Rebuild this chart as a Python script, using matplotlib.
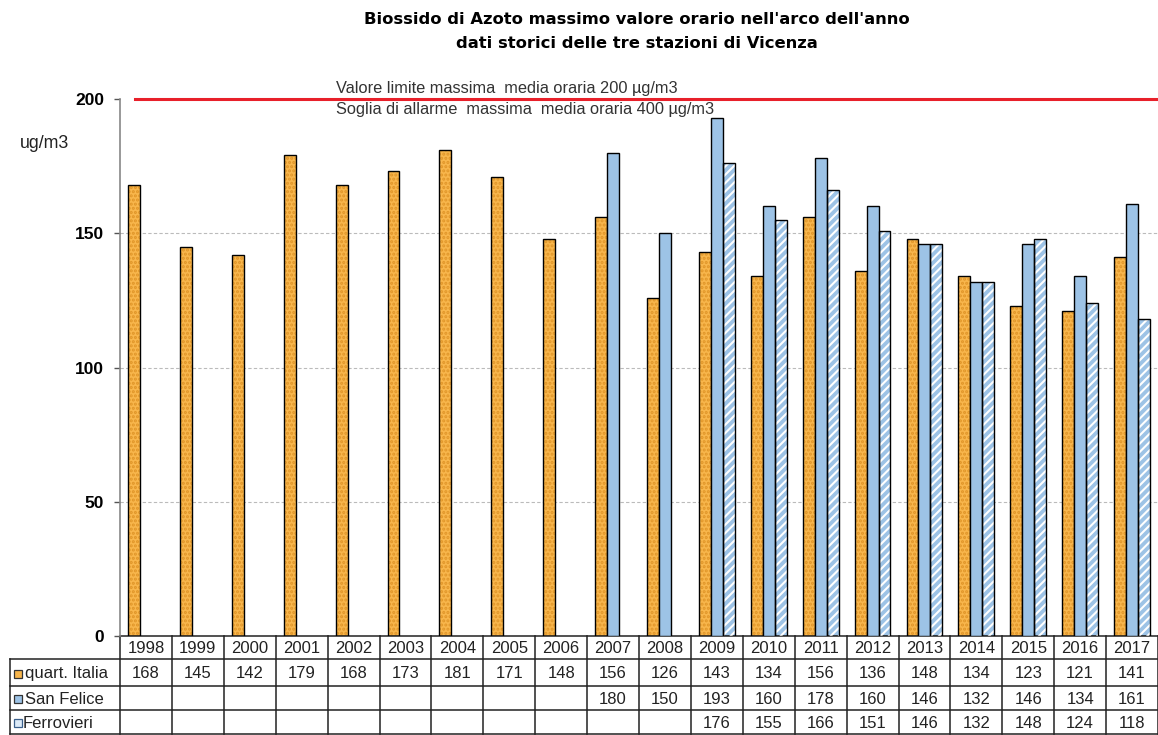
import matplotlib
matplotlib.use("Agg")
import matplotlib.pyplot as plt
from matplotlib.transforms import blended_transform_factory
from matplotlib.patches import Rectangle
import numpy as np

plt.rcParams['font.family'] = ['Liberation Sans', 'DejaVu Sans']
plt.rcParams['hatch.linewidth'] = 1.5

years = [str(y) for y in range(1998, 2018)]
quart_italia = [168, 145, 142, 179, 168, 173, 181, 171, 148, 156, 126, 143, 134, 156, 136, 148, 134, 123, 121, 141]
san_felice = [None] * 9 + [180, 150, 193, 160, 178, 160, 146, 132, 146, 134, 161]
ferrovieri = [None] * 11 + [176, 155, 166, 151, 146, 132, 148, 124, 118]
series_names = ["quart. Italia", "San Felice", "Ferrovieri"]
yticks = [0, 50, 100, 150, 200]
limit_value = 200
limit_text1 = "Valore limite massima  media oraria 200 µg/m3"
limit_text2 = "Soglia di allarme  massima  media oraria 400 µg/m3"
title1 = "Biossido di Azoto massimo valore orario nell'arco dell'anno"
title2 = "dati storici delle tre stazioni di Vicenza"

ORANGE = "#F8B64C"
ORANGE_DOT = "#E09528"
BLUE = "#9DC3E6"

W, H = 1158, 735
fig = plt.figure(figsize=(W / 100, H / 100), dpi=100)
ax_left, ax_right, ax_top, ax_bottom = 120, 1158, 99, 636
ax = fig.add_axes([ax_left / W, (H - ax_bottom) / H, (ax_right - ax_left) / W, (ax_bottom - ax_top) / H])

n = len(years)
x = np.arange(n)
bw = 0.23

def vals(a):
    return np.array([np.nan if v is None else v for v in a], dtype=float)

q = vals(quart_italia)
s = vals(san_felice)
f = vals(ferrovieri)

# grid
for yv in yticks[1:-1]:
    ax.axhline(yv, color="#bbbbbb", lw=0.8, ls=(0, (3, 2)), zorder=0)

# orange bars with dotted texture
ax.bar(x - bw, q, bw, color=ORANGE, edgecolor="none", zorder=2)
ax.bar(x - bw, q, bw, color="none", edgecolor=ORANGE_DOT, hatch="....", lw=0, zorder=3)
ax.bar(x - bw, q, bw, color="none", edgecolor="black", lw=1.0, zorder=4)
# blue bars
ax.bar(x, s, bw, color=BLUE, edgecolor="black", lw=1.0, zorder=4)
# hatched blue bars
ax.bar(x + bw, f, bw, color=BLUE, edgecolor="none", zorder=2)
ax.bar(x + bw, f, bw, color="none", edgecolor="white", hatch="////", lw=0, zorder=3)
ax.bar(x + bw, f, bw, color="none", edgecolor="black", lw=1.0, zorder=4)

# limit line
ax.plot([-0.21, n - 0.5], [limit_value, limit_value], color="#E8202A", lw=2.2, clip_on=False, zorder=5)
ax.text(3.66, limit_value + 1.2, limit_text1, fontsize=11.8, color="#333333", ha="left", va="bottom")
ax.text(3.66, limit_value - 1.0, limit_text2, fontsize=11.8, color="#333333", ha="left", va="top")

ax.set_xlim(-0.5, n - 0.5)
ax.set_ylim(0, 200)
ax.set_yticks(yticks)
ax.set_yticklabels([str(t) for t in yticks], fontsize=12.5, fontweight="bold")
ax.tick_params(axis="y", length=4.5, width=1, color="#555555", pad=7)
ax.set_xticks([])
for sp in ["top", "right", "bottom"]:
    ax.spines[sp].set_visible(False)
ax.spines["left"].set_color("#888888")
ax.spines["left"].set_linewidth(1.2)

fig.text(20 / W, 1 - 143 / H, "ug/m3", fontsize=12.8, ha="left", va="center", color="#222222")
fig.text(637 / W, 1 - 20 / H, title1, fontsize=11.8, fontweight="bold", ha="center", va="center",
         family=["DejaVu Sans"])
fig.text(637 / W, 1 - 43 / H, title2, fontsize=11.8, fontweight="bold", ha="center", va="center",
         family=["DejaVu Sans"])

# table
tr = blended_transform_factory(ax.transData, ax.transAxes)
def ay(px):
    return (ax_bottom - px) / (ax_bottom - ax_top)

row_edges = [636, 659, 686, 710, 734]
label_left = -0.5 + (10 - ax_left) / ((ax_right - ax_left) / n)
lc = "#222222"
lw = 1.1
ax.plot([-0.5, n - 0.5], [ay(row_edges[0])] * 2, color=lc, lw=lw, transform=tr, clip_on=False)
for r in row_edges[1:]:
    ax.plot([label_left, n - 0.5], [ay(r)] * 2, color=lc, lw=lw, transform=tr, clip_on=False)
for i in range(n + 1):
    ax.plot([i - 0.5, i - 0.5], [ay(row_edges[0]), ay(row_edges[-1])], color=lc, lw=lw, transform=tr, clip_on=False)
ax.plot([label_left, label_left], [ay(row_edges[1]), ay(row_edges[-1])], color=lc, lw=lw, transform=tr, clip_on=False)

def mid(a, b):
    return ay((a + b) / 2 + 1)

for i, yr in enumerate(years):
    ax.text(i, mid(row_edges[0], row_edges[1]), yr, fontsize=12, ha="center", va="center",
            color="#222222", transform=tr, clip_on=False)
for ri, data in enumerate([quart_italia, san_felice, ferrovieri]):
    yc = mid(row_edges[ri + 1], row_edges[ri + 2])
    for i, v in enumerate(data):
        if v is not None:
            ax.text(i, yc, str(v), fontsize=12, ha="center", va="center", color="#222222",
                    transform=tr, clip_on=False)

cw = (ax_right - ax_left) / n
sq = 8 / cw
sq_x = label_left + 4 / cw
hh = 8 / (ax_bottom - ax_top)
sq_styles = [(ORANGE, "#333333"), (BLUE, "#333333"), ("#DCEAF7", "#3A5F8A")]
for ri, name in enumerate(series_names):
    yc = mid(row_edges[ri + 1], row_edges[ri + 2])
    fc, ec = sq_styles[ri]
    ax.add_patch(Rectangle((sq_x, yc - hh / 2), sq, hh, facecolor=fc, edgecolor=ec, lw=0.9,
                           transform=tr, clip_on=False))
    gap = 3 / cw if ri < 2 else 1 / cw
    ax.text(sq_x + sq + gap, yc, name, fontsize=12, ha="left", va="center", color="#222222",
            transform=tr, clip_on=False)

fig.savefig("out.png", dpi=100)
